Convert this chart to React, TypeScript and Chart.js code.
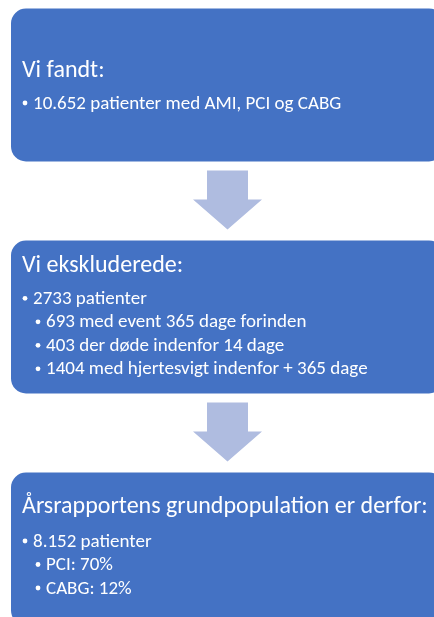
import React, { useEffect, useRef } from "react";
import { Chart, registerables } from "chart.js";

Chart.register(...registerables);

// ---- data ----
const STEP_TITLES = [
  "Vi fandt:",
  "Vi ekskluderede:",
  "Årsrapportens grundpopulation er derfor:",
];
const STEP_LINES = [
  ["10.652 patienter med AMI, PCI og CABG"],
  [
    "2733 patienter",
    "693 med event 365 dage forinden",
    "403 der døde indenfor 14 dage",
    "1404 med hjertesvigt indenfor + 365 dage",
  ],
  ["8.152 patienter", "PCI: 70%", "CABG: 12%"],
];
const LINE_LEVELS = [[0], [0, 1, 1, 1], [0, 1, 1]];
const BOX_SPAN: [number, number][] = [
  [0, 1],
  [0, 1],
  [0, 1],
];

// ---- style / layout ----
const BOX_COLOR = "#4472C4";
const ARROW_COLOR = "#AFBCE0";
const FONT = "Carlito, Lato, 'Open Sans', sans-serif";
const TITLE_SIZE = 24;
const LINE_SIZE = 19;
const TITLE_OFFSET = [68, 31, 40.7];
const FIRST_LINE_OFFSET = [100, 63.3, 74];
const LINE_STEP = 23.5;

const flowPlugin = {
  id: "flowText",
  afterDatasetsDraw(chart: any) {
    const ctx = chart.ctx as CanvasRenderingContext2D;
    const meta = chart.getDatasetMeta(0);
    const bars = meta.data as any[];
    ctx.save();
    // arrows between boxes
    for (let i = 0; i < bars.length - 1; i++) {
      const a = bars[i];
      const b = bars[i + 1];
      const aBottom = a.y + a.height / 2;
      const bTop = b.y - b.height / 2;
      const cx = (a.base + a.x) / 2;
      const shaftTop = aBottom + 9;
      const headTop = aBottom + 38;
      const tip = bTop - 11;
      ctx.fillStyle = ARROW_COLOR;
      ctx.beginPath();
      ctx.moveTo(cx - 20.5, shaftTop);
      ctx.lineTo(cx + 20.5, shaftTop);
      ctx.lineTo(cx + 20.5, headTop);
      ctx.lineTo(cx + 34.5, headTop);
      ctx.lineTo(cx, tip);
      ctx.lineTo(cx - 34.5, headTop);
      ctx.lineTo(cx - 20.5, headTop);
      ctx.closePath();
      ctx.fill();
    }
    // text
    ctx.fillStyle = "#FFFFFF";
    ctx.textBaseline = "alphabetic";
    ctx.textAlign = "left";
    bars.forEach((bar, i) => {
      const top = bar.y - bar.height / 2;
      const left = bar.base;
      ctx.font = `${TITLE_SIZE}px ${FONT}`;
      ctx.fillText(STEP_TITLES[i], left + 11, top + TITLE_OFFSET[i]);
      ctx.font = `${LINE_SIZE}px ${FONT}`;
      STEP_LINES[i].forEach((line, j) => {
        const level = LINE_LEVELS[i][j];
        const y = top + FIRST_LINE_OFFSET[i] + j * LINE_STEP;
        const dotX = left + (level === 0 ? 14 : 27);
        const textX = left + (level === 0 ? 22 : 35);
        ctx.beginPath();
        ctx.arc(dotX, y - 5.5, 2.4, 0, Math.PI * 2);
        ctx.fill();
        ctx.fillText(line, textX, y);
      });
    });
    ctx.restore();
  },
};

export default function App() {
  const ref = useRef<HTMLCanvasElement | null>(null);
  useEffect(() => {
    if (!ref.current) return;
    const chart = new Chart(ref.current, {
      type: "bar",
      data: {
        labels: STEP_TITLES,
        datasets: [
          {
            data: BOX_SPAN as any,
            backgroundColor: BOX_COLOR,
            borderWidth: 0,
            borderRadius: 15,
            borderSkipped: false,
            categoryPercentage: 1,
            barPercentage: 153 / 232,
          },
        ],
      },
      options: {
        indexAxis: "y",
        animation: false,
        responsive: false,
        events: [],
        layout: { padding: { left: 11, right: 11, top: 0, bottom: 0 } },
        plugins: { legend: { display: false }, tooltip: { enabled: false } },
        scales: {
          x: { display: false, min: 0, max: 1 },
          y: { display: false },
        },
      },
      plugins: [flowPlugin],
    });
    return () => chart.destroy();
  }, []);
  return (
    <div
      style={{
        position: "fixed",
        left: 0,
        top: 0,
        width: 434,
        height: 617,
        overflow: "hidden",
        background: "#FFFFFF",
      }}
    >
      <canvas
        ref={ref}
        width={455}
        height={696}
        style={{ position: "absolute", left: 0, top: -31.5, width: 455, height: 696 }}
      />
    </div>
  );
}
